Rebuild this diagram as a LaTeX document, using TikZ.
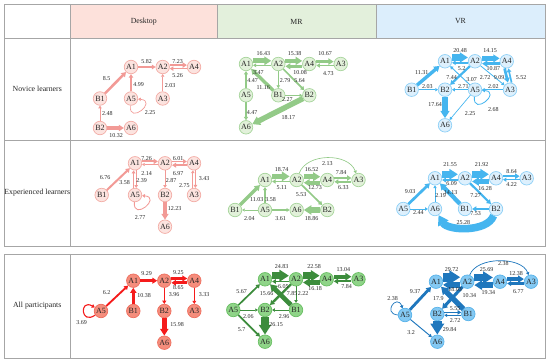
\documentclass[tikz,border=0pt]{standalone}
\usepackage{fontspec}
\setmainfont{Liberation Serif}
\usetikzlibrary{arrows.meta}
\definecolor{gridc}{HTML}{A6A6A6}
\definecolor{hD}{HTML}{FDE1DB}
\definecolor{hM}{HTML}{E3F0DC}
\definecolor{hV}{HTML}{DCEEFC}
\definecolor{dF}{HTML}{FCE3DF}
\definecolor{dD}{HTML}{F3AEA7}
\definecolor{dE}{HTML}{F29A96}
\definecolor{daF}{HTML}{F58D7C}
\definecolor{daD}{HTML}{EE6E5E}
\definecolor{daE}{HTML}{F51B1B}
\definecolor{mF}{HTML}{E2F1DA}
\definecolor{mD}{HTML}{A7D59C}
\definecolor{mE}{HTML}{93CA88}
\definecolor{maF}{HTML}{8FD488}
\definecolor{maD}{HTML}{69BE63}
\definecolor{maE}{HTML}{3C8C3C}
\definecolor{vF}{HTML}{DDF0FD}
\definecolor{vD}{HTML}{8ED0F6}
\definecolor{vE}{HTML}{45B5EF}
\definecolor{vaF}{HTML}{84C9F3}
\definecolor{vaD}{HTML}{58B3EA}
\definecolor{vaE}{HTML}{1F77BD}
\definecolor{txt}{HTML}{262626}
\tikzset{
  nd/.style={circle, minimum size=13.5pt, inner sep=0pt, line width=0.7pt, text=txt, font=\fontsize{8}{8}\selectfont},
  ndD/.style={nd, fill=dF, draw=dD},
  ndDA/.style={nd, fill=daF, draw=daD},
  ndM/.style={nd, fill=mF, draw=mD},
  ndMA/.style={nd, fill=maF, draw=maD},
  ndV/.style={nd, fill=vF, draw=vD},
  ndVA/.style={nd, fill=vaF, draw=vaD},
  lab/.style={inner sep=0pt, text=txt, font=\fontsize{6}{6}\selectfont},
  hd/.style={inner sep=0pt, text=txt, font=\fontsize{7.8}{8}\selectfont},
  ed/.style={line width={max(0.6,#1*0.3)*1pt}, -{Triangle[length=2pt 1, width=2.5pt 1.2]}},
  tline/.style={draw=gridc, line width=0.8pt},
}
\begin{document}
\begin{tikzpicture}[x=1pt,y=-1pt]
\useasboundingbox (0,0) rectangle (550,363);
% ---------- table ----------
\fill[hD] (70.5,4) rectangle (217,38.5);
\fill[hM] (217,4) rectangle (376,38.5);
\fill[hV] (376,4) rectangle (545,38.5);
\draw[tline] (4,4) rectangle (545,246);
\draw[tline] (4,38.5) -- (545,38.5);
\draw[tline] (4,140) -- (545,140);
\draw[tline] (70.5,4) -- (70.5,246);
\draw[tline] (217,4) -- (217,38.5);
\draw[tline] (376,4) -- (376,38.5);
\draw[tline] (4,254) rectangle (545,358);
\draw[tline] (70.5,254) -- (70.5,358);
\node[hd] (hdesk) at (143.75,21.5) {Desktop};
\node[hd] (hmr) at (296.5,21.5) {MR};
\node[hd] (hvr) at (460.5,21.5) {VR};
\node[hd] (rnov) at (37.25,89) {Novice learners};
\node[hd] (rexp) at (37.25,193) {Experienced learners};
\node[hd] (rall) at (37.25,306) {All participants};

% ================= Desktop novice =================
\node[ndD] (dnA1) at (131,67) {A1};
\node[ndD] (dnA2) at (162.7,67) {A2};
\node[ndD] (dnA4) at (194,67) {A4};
\node[ndD] (dnB1) at (100,98.5) {B1};
\node[ndD] (dnA5) at (131,98.5) {A5};
\node[ndD] (dnA3) at (162.7,98.5) {A3};
\node[ndD] (dnB2) at (100,128) {B2};
\node[ndD] (dnA6) at (131,128) {A6};
\begin{scope}[color=dE]
\draw[ed=8.5] (dnB1) -- (dnA1);
\draw[ed=5.82] (dnA1) -- (dnA2);
\draw[ed=7.23] ([yshift=1.9pt]dnA2.east) -- ([yshift=1.9pt]dnA4.west);
\draw[ed=5.26] ([yshift=-1.6pt]dnA4.west) -- ([yshift=-1.6pt]dnA2.east);
\draw[ed=4.99] (dnA5) -- (dnA1);
\draw[ed=2.03] (dnA3) -- (dnA2);
\draw[ed=2.25] (dnA5.-95) .. controls +(-95:20pt) and +(-5:20pt) .. (dnA5.-5);
\draw[ed=2.48] (dnB2) -- (dnB1);
\draw[ed=10.32] (dnB2) -- (dnA6);
\end{scope}
\node[lab] (dnl1) at (106.7,78.7) {8.5};
\node[lab] (dnl2) at (146.7,62) {5.82};
\node[lab] (dnl3) at (177.7,61.5) {7.23};
\node[lab] (dnl4) at (177.7,76) {5.26};
\node[lab] (dnl5) at (138.7,84.7) {4.99};
\node[lab] (dnl6) at (170,85.3) {2.03};
\node[lab] (dnl7) at (150,113) {2.25};
\node[lab] (dnl8) at (107.3,114) {2.48};
\node[lab] (dnl9) at (116,135.5) {10.32};

% ================= MR novice =================
\node[ndM] (mnA1) at (246,64) {A1};
\node[ndM] (mnA2) at (278.3,64) {A2};
\node[ndM] (mnA4) at (309.3,64) {A4};
\node[ndM] (mnA3) at (340.7,64) {A3};
\node[ndM] (mnA5) at (246,95.3) {A5};
\node[ndM] (mnB1) at (278.3,95.3) {B1};
\node[ndM] (mnB2) at (309.3,95.3) {B2};
\node[ndM] (mnA6) at (246,127.3) {A6};
\begin{scope}[color=mE]
\draw[ed=16.43] ([yshift=3.2pt]mnA1.east) -- ([yshift=3.2pt]mnA2.west);
\draw[ed=3.47] ([yshift=-1.3pt]mnA2.west) -- ([yshift=-1.3pt]mnA1.east);
\draw[ed=15.38] ([yshift=3.1pt]mnA2.east) -- ([yshift=3.1pt]mnA4.west);
\draw[ed=10.08] ([yshift=-2.3pt]mnA4.west) -- ([yshift=-2.3pt]mnA2.east);
\draw[ed=10.67] ([yshift=2.4pt]mnA4.east) -- ([yshift=2.4pt]mnA3.west);
\draw[ed=4.73] ([yshift=-1.5pt]mnA3.west) -- ([yshift=-1.5pt]mnA4.east);
\draw[ed=11.16] (mnB1) -- (mnA1);
\draw[ed=2.79] (mnA2) -- (mnB1);
\draw[ed=5.64] (mnA2) -- (mnB2);
\draw[ed=2.27] (mnB1) -- (mnB2);
\draw[ed=4.47] (mnA5) -- (mnA1);
\draw[ed=4.47] (mnA5) -- (mnA6);
\draw[ed=18.17] (mnB2) -- (mnA6);
\end{scope}
\node[lab] (mnl1) at (263.3,54) {16.43};
\node[lab] (mnl2) at (258.3,73) {3.47};
\node[lab] (mnl3) at (294.5,54) {15.38};
\node[lab] (mnl4) at (300,73) {10.08};
\node[lab] (mnl5) at (325,54) {10.67};
\node[lab] (mnl6) at (328.3,74) {4.73};
\node[lab] (mnl7) at (263.3,87.3) {11.16};
\node[lab] (mnl8) at (285,80.7) {2.79};
\node[lab] (mnl9) at (299.5,80.7) {5.64};
\node[lab] (mnl10) at (287.3,99.7) {2.27};
\node[lab] (mnl11) at (252.5,80.7) {4.47};
\node[lab] (mnl12) at (252,113) {4.47};
\node[lab] (mnl13) at (288.3,117.3) {18.17};

% ================= VR novice =================
\node[ndV] (vnA1) at (445,61.3) {A1};
\node[ndV] (vnA2) at (475,61.3) {A2};
\node[ndV] (vnA4) at (506.7,61.3) {A4};
\node[ndV] (vnB1) at (411.7,89.7) {B1};
\node[ndV] (vnB2) at (445,89.7) {B2};
\node[ndV] (vnA5) at (475,89.7) {A5};
\node[ndV] (vnA3) at (510,89.7) {A3};
\node[ndV] (vnA6) at (445,125.3) {A6};
\begin{scope}[color=vE]
\draw[ed=20.48] ([yshift=3.8pt]vnA1.east) -- ([yshift=3.8pt]vnA2.west);
\draw[ed=5.2] ([yshift=-1.5pt]vnA2.west) -- ([yshift=-1.5pt]vnA1.east);
\draw[ed=14.15] ([yshift=2.9pt]vnA2.east) -- ([yshift=2.9pt]vnA4.west);
\draw[ed=10.87] ([yshift=-2.4pt]vnA4.west) -- ([yshift=-2.4pt]vnA2.east);
\draw[ed=9.09] ([xshift=-2.1pt]vnA4.south) -- ([xshift=-2.1pt]vnA3.north);
\draw[ed=5.52] ([xshift=1.6pt]vnA3.north) -- ([xshift=1.6pt]vnA4.south);
\draw[ed=2.72] (vnA2) -- (vnA3);
\draw[ed=7.44] (vnA2) -- (vnB2);
\draw[ed=3.07] (vnA5) -- (vnA1);
\draw[ed=11.31] (vnB1) -- (vnA1);
\draw[ed=2.03] (vnB1) -- (vnB2);
\draw[ed=2.71] (vnA5) -- (vnB2);
\draw[ed=2.02] (vnA3) -- (vnA5);
\draw[ed=2.68] (vnA5.-95) .. controls +(-95:20pt) and +(-5:20pt) .. (vnA5.-5);
\draw[ed=17.64] (vnB2) -- (vnA6);
\draw[ed=2.25] (vnA5) -- (vnA6);
\end{scope}
\node[lab] (vnl1) at (460,50.7) {20.48};
\node[lab] (vnl2) at (461.7,68.7) {5.2};
\node[lab] (vnl3) at (490,50.7) {14.15};
\node[lab] (vnl4) at (493.3,68.7) {10.87};
\node[lab] (vnl5) at (499,77.3) {9.09};
\node[lab] (vnl6) at (521,77.3) {5.52};
\node[lab] (vnl7) at (485,77.3) {2.72};
\node[lab] (vnl8) at (451.7,77.3) {7.44};
\node[lab] (vnl9) at (471.7,79.7) {3.07};
\node[lab] (vnl10) at (421.7,73) {11.31};
\node[lab] (vnl11) at (427.3,86.3) {2.03};
\node[lab] (vnl12) at (463.3,86.3) {2.71};
\node[lab] (vnl13) at (493.3,86.3) {2.02};
\node[lab] (vnl14) at (493.3,109.7) {2.68};
\node[lab] (vnl15) at (435,104.7) {17.64};
\node[lab] (vnl16) at (470,114) {2.25};

% ================= Desktop experienced =================
\node[ndD] (deA1) at (135,163.3) {A1};
\node[ndD] (deA2) at (165,163.3) {A2};
\node[ndD] (deA4) at (194,163.3) {A4};
\node[ndD] (deB1) at (101.7,195) {B1};
\node[ndD] (deA5) at (135,195) {A5};
\node[ndD] (deB2) at (165,195) {B2};
\node[ndD] (deA3) at (194,195) {A3};
\node[ndD] (deA6) at (165,226.7) {A6};
\begin{scope}[color=dE]
\draw[ed=7.26] ([yshift=1.9pt]deA1.east) -- ([yshift=1.9pt]deA2.west);
\draw[ed=2.14] ([yshift=-1.2pt]deA2.west) -- ([yshift=-1.2pt]deA1.east);
\draw[ed=6.01] ([yshift=1.8pt]deA2.east) -- ([yshift=1.8pt]deA4.west);
\draw[ed=6.97] ([yshift=-1.9pt]deA4.west) -- ([yshift=-1.9pt]deA2.east);
\draw[ed=6.76] (deB1) -- (deA1);
\draw[ed=3.58] ([xshift=-1.4pt]deA5.north) -- ([xshift=-1.4pt]deA1.south);
\draw[ed=2.39] ([xshift=1.2pt]deA1.south) -- ([xshift=1.2pt]deA5.north);
\draw[ed=2.87] (deA2) -- (deB2);
\draw[ed=3.43] ([xshift=1.4pt]deA4.south) -- ([xshift=1.4pt]deA3.north);
\draw[ed=2.75] ([xshift=-1.2pt]deA3.north) -- ([xshift=-1.2pt]deA4.south);
\draw[ed=2.77] (deA5.-95) .. controls +(-95:20pt) and +(-5:20pt) .. (deA5.-5);
\draw[ed=12.23] (deB2) -- (deA6);
\end{scope}
\node[lab] (del1) at (146.7,159) {7.26};
\node[lab] (del2) at (146.7,173.3) {2.14};
\node[lab] (del3) at (178,159) {6.01};
\node[lab] (del4) at (178,174) {6.97};
\node[lab] (del5) at (105,177.3) {6.76};
\node[lab] (del6) at (124.5,182.7) {3.58};
\node[lab] (del7) at (141.5,180.7) {2.39};
\node[lab] (del8) at (171,180.7) {2.87};
\node[lab] (del9) at (204,178.3) {3.43};
\node[lab] (del10) at (184.3,186) {2.75};
\node[lab] (del11) at (140,217.3) {2.77};
\node[lab] (del12) at (174.5,208.3) {12.23};

% ================= MR experienced =================
\node[ndM] (meA1) at (265,180) {A1};
\node[ndM] (meA2) at (296.7,180) {A2};
\node[ndM] (meA4) at (327.3,180) {A4};
\node[ndM] (meA3) at (358.5,180) {A3};
\node[ndM] (meB1) at (235,210) {B1};
\node[ndM] (meA5) at (265,210) {A5};
\node[ndM] (meA6) at (296.7,210) {A6};
\node[ndM] (meB2) at (327.3,210) {B2};
\begin{scope}[color=mE]
\draw[ed=18.74] ([yshift=3.6pt]meA1.east) -- ([yshift=3.6pt]meA2.west);
\draw[ed=5.11] ([yshift=-1.5pt]meA2.west) -- ([yshift=-1.5pt]meA1.east);
\draw[ed=16.52] ([yshift=3.3pt]meA2.east) -- ([yshift=3.3pt]meA4.west);
\draw[ed=12.73] ([yshift=-2.7pt]meA4.west) -- ([yshift=-2.7pt]meA2.east);
\draw[ed=7.84] ([yshift=2pt]meA4.east) -- ([yshift=2pt]meA3.west);
\draw[ed=6.33] ([yshift=-1.8pt]meA3.west) -- ([yshift=-1.8pt]meA4.east);
\draw[ed=2.13] (meA2.70) .. controls +(70:22pt) and +(110:22pt) .. (meA3.110);
\draw[ed=11.03] (meB1) -- (meA1);
\draw[ed=3.58] (meA5) -- (meA1);
\draw[ed=2.04] (meA5) -- (meB1);
\draw[ed=3.61] (meA5) -- (meA6);
\draw[ed=18.86] (meB2) -- (meA6);
\draw[ed=5.53] (meA2) -- (meB2);
\end{scope}
\node[lab] (mel1) at (281.7,169.3) {18.74};
\node[lab] (mel2) at (281.7,187.3) {5.11};
\node[lab] (mel3) at (311.7,169.3) {16.52};
\node[lab] (mel4) at (315,187.3) {12.73};
\node[lab] (mel5) at (341,172.7) {7.84};
\node[lab] (mel6) at (343.3,187.3) {6.33};
\node[lab] (mel7) at (327.3,164) {2.13};
\node[lab] (mel8) at (256.7,199.3) {11.03};
\node[lab] (mel9) at (270.5,199.3) {3.58};
\node[lab] (mel10) at (249.3,218.3) {2.04};
\node[lab] (mel11) at (280.7,218.3) {3.61};
\node[lab] (mel12) at (311.7,218.3) {18.86};
\node[lab] (mel13) at (301,195) {5.53};

% ================= VR experienced =================
\node[ndV] (veA1) at (435,178.3) {A1};
\node[ndV] (veA2) at (465,178.3) {A2};
\node[ndV] (veA4) at (496,178.3) {A4};
\node[ndV] (veA3) at (526.7,178.3) {A3};
\node[ndV] (veA5) at (403.3,209) {A5};
\node[ndV] (veA6) at (435,209) {A6};
\node[ndV] (veB1) at (465,209) {B1};
\node[ndV] (veB2) at (496,209) {B2};
\begin{scope}[color=vE]
\draw[ed=21.55] ([yshift=4pt]veA1.east) -- ([yshift=4pt]veA2.west);
\draw[ed=6.09] ([yshift=-1.7pt]veA2.west) -- ([yshift=-1.7pt]veA1.east);
\draw[ed=21.92] ([yshift=4pt]veA2.east) -- ([yshift=4pt]veA4.west);
\draw[ed=16.28] ([yshift=-3.2pt]veA4.west) -- ([yshift=-3.2pt]veA2.east);
\draw[ed=8.64] ([yshift=2.1pt]veA4.east) -- ([yshift=2.1pt]veA3.west);
\draw[ed=4.22] ([yshift=-1.4pt]veA3.west) -- ([yshift=-1.4pt]veA4.east);
\draw[ed=9.03] (veA5) -- (veA1);
\draw[ed=2.19] (veA6) -- (veA1);
\draw[ed=14.13] (veB1) -- (veA1);
\draw[ed=7.27] (veA2) -- (veB2);
\draw[ed=7.53] (veB2) -- (veB1);
\draw[ed=2.44] (veA5) -- (veA6);
\draw[ed=25.28] (veB2.-110) .. controls +(-110:18pt) and +(-60:18pt) .. (veA6.-60);
\end{scope}
\node[lab] (vel1) at (450,165) {21.55};
\node[lab] (vel2) at (451.7,184) {6.09};
\node[lab] (vel3) at (481.7,165) {21.92};
\node[lab] (vel4) at (485,189) {16.28};
\node[lab] (vel5) at (511.7,171.7) {8.64};
\node[lab] (vel6) at (511.7,184.3) {4.22};
\node[lab] (vel7) at (410,191.7) {9.03};
\node[lab] (vel8) at (440.5,196) {2.19};
\node[lab] (vel9) at (450.5,192.7) {14.13};
\node[lab] (vel10) at (475.5,196) {7.27};
\node[lab] (vel11) at (475.5,214) {7.53};
\node[lab] (vel12) at (418.3,213) {2.44};
\node[lab] (vel13) at (463.3,222.7) {25.28};

% ================= Desktop all =================
\node[ndDA] (daA1) at (133.3,280.7) {A1};
\node[ndDA] (daA2) at (164.3,280.7) {A2};
\node[ndDA] (daA4) at (194.3,280.7) {A4};
\node[ndDA] (daA5) at (101,311) {A5};
\node[ndDA] (daB1) at (133.3,311) {B1};
\node[ndDA] (daB2) at (164.3,311) {B2};
\node[ndDA] (daA3) at (194.3,311) {A3};
\node[ndDA] (daA6) at (164.3,342.7) {A6};
\begin{scope}[color=daE]
\draw[ed=9.29] (daA1) -- (daA2);
\draw[ed=9.25] ([yshift=2.2pt]daA2.east) -- ([yshift=2.2pt]daA4.west);
\draw[ed=8.65] ([yshift=-2.1pt]daA4.west) -- ([yshift=-2.1pt]daA2.east);
\draw[ed=6.2] (daA5) -- (daA1);
\draw[ed=10.38] (daB1) -- (daA1);
\draw[ed=3.96] (daA2) -- (daB2);
\draw[ed=3.33] (daA4) -- (daA3);
\draw[ed=15.98] (daB2) -- (daA6);
\draw[ed=3.69] (daA5.215) .. controls +(215:18pt) and +(150:18pt) .. (daA5.150);
\end{scope}
\node[lab] (dal1) at (146.7,274) {9.29};
\node[lab] (dal2) at (178.3,273) {9.25};
\node[lab] (dal3) at (178.3,287.3) {8.65};
\node[lab] (dal4) at (106.7,292.7) {6.2};
\node[lab] (dal5) at (144,296) {10.38};
\node[lab] (dal6) at (174,295) {3.96};
\node[lab] (dal7) at (204,295) {3.33};
\node[lab] (dal8) at (177,324.3) {15.98};
\node[lab] (dal9) at (81.7,322.7) {3.69};

% ================= MR all =================
\node[ndMA] (maA1) at (265,279.3) {A1};
\node[ndMA] (maA2) at (296,279.3) {A2};
\node[ndMA] (maA4) at (326.7,279.3) {A4};
\node[ndMA] (maA3) at (358.5,279.3) {A3};
\node[ndMA] (maA5) at (233.3,310) {A5};
\node[ndMA] (maB2) at (265,310) {B2};
\node[ndMA] (maB1) at (296,310) {B1};
\node[ndMA] (maA6) at (265,341.7) {A6};
\begin{scope}[color=maE]
\draw[ed=24.83] ([yshift=3.6pt]maA1.east) -- ([yshift=3.6pt]maA2.west);
\draw[ed=6.05] ([yshift=-2.2pt]maA2.west) -- ([yshift=-2.2pt]maA1.east);
\draw[ed=22.58] ([yshift=3.6pt]maA2.east) -- ([yshift=3.6pt]maA4.west);
\draw[ed=16.18] ([yshift=-3.2pt]maA4.west) -- ([yshift=-3.2pt]maA2.east);
\draw[ed=13.04] ([yshift=2.6pt]maA4.east) -- ([yshift=2.6pt]maA3.west);
\draw[ed=7.84] ([yshift=-2pt]maA3.west) -- ([yshift=-2pt]maA4.east);
\draw[ed=5.67] (maA5) -- (maA1);
\draw[ed=2.06] (maA5) -- (maB2);
\draw[ed=5.7] (maA5) -- (maA6);
\draw[ed=26.15] (maB2) -- (maA6);
\draw[ed=2.96] (maB1) -- (maB2);
\draw[ed=2.22] (maA2) -- (maB1);
\draw[ed=15.66] (maB1) -- (maA1);
\draw[ed=7.85] (maA2) -- (maB2);
\end{scope}
\node[lab] (mal1) at (281.7,266.7) {24.83};
\node[lab] (mal2) at (283.3,287) {6.05};
\node[lab] (mal3) at (314,266.7) {22.58};
\node[lab] (mal4) at (315,289) {16.18};
\node[lab] (mal5) at (343.3,269.3) {13.04};
\node[lab] (mal6) at (346.7,287) {7.84};
\node[lab] (mal7) at (241.7,291.7) {5.67};
\node[lab] (mal8) at (248.3,316.5) {2.06};
\node[lab] (mal9) at (241.7,329.3) {5.7};
\node[lab] (mal10) at (276,325) {26.15};
\node[lab] (mal11) at (284,316.5) {2.96};
\node[lab] (mal12) at (303,294) {2.22};
\node[lab] (mal13) at (266.7,294) {15.66};
\node[lab] (mal14) at (292,294) {7.85};

% ================= VR all =================
\node[ndVA] (vaA1) at (436,281.7) {A1};
\node[ndVA] (vaA2) at (467.3,281.7) {A2};
\node[ndVA] (vaA4) at (500,281.7) {A4};
\node[ndVA] (vaA3) at (531,281.7) {A3};
\node[ndVA] (vaA5) at (405,315) {A5};
\node[ndVA] (vaB2) at (437.3,314) {B2};
\node[ndVA] (vaB1) at (468.3,314) {B1};
\node[ndVA] (vaA6) at (437.3,341.7) {A6};
\begin{scope}[color=vaE]
\draw[ed=29.72] ([yshift=4.5pt]vaA1.east) -- ([yshift=4.5pt]vaA2.west);
\draw[ed=18.03] ([yshift=-3.2pt]vaA2.west) -- ([yshift=-3.2pt]vaA1.east);
\draw[ed=25.69] ([yshift=4.2pt]vaA2.east) -- ([yshift=4.2pt]vaA4.west);
\draw[ed=19.34] ([yshift=-3.4pt]vaA4.west) -- ([yshift=-3.4pt]vaA2.east);
\draw[ed=12.38] ([yshift=2.6pt]vaA4.east) -- ([yshift=2.6pt]vaA3.west);
\draw[ed=6.77] ([yshift=-1.8pt]vaA3.west) -- ([yshift=-1.8pt]vaA4.east);
\draw[ed=2.38] (vaA2.70) .. controls +(70:20pt) and +(110:20pt) .. (vaA3.110);
\draw[ed=9.37] (vaA5) -- (vaA1);
\draw[ed=2.38] (vaA5.180) .. controls +(175:16pt) and +(110:16pt) .. (vaA5.110);
\draw[ed=3.2] (vaA5) -- (vaA6);
\draw[ed=29.84] (vaB2) -- (vaA6);
\draw[ed=5.55] ([yshift=1.6pt]vaB2.east) -- ([yshift=1.6pt]vaB1.west);
\draw[ed=2.72] ([yshift=-1.3pt]vaB1.west) -- ([yshift=-1.3pt]vaB2.east);
\draw[ed=17.9] (vaB1) -- (vaA1);
\draw[ed=10.34] (vaA2) -- (vaB2);
\end{scope}
\node[lab] (val1) at (451.7,270) {29.72};
\node[lab] (val2) at (455,290) {18.03};
\node[lab] (val3) at (486.7,270) {25.69};
\node[lab] (val4) at (488.3,293) {19.34};
\node[lab] (val5) at (516,273.3) {12.38};
\node[lab] (val6) at (518.3,291.7) {6.77};
\node[lab] (val7) at (503.3,263.5) {2.38};
\node[lab] (val8) at (415,291.7) {9.37};
\node[lab] (val9) at (392.7,298.3) {2.38};
\node[lab] (val10) at (411,332.7) {3.2};
\node[lab] (val11) at (449.5,330) {29.84};
\node[lab] (val12) at (455,308.3) {5.55};
\node[lab] (val13) at (455,320.7) {2.72};
\node[lab] (val14) at (438.3,298.3) {17.9};
\node[lab] (val15) at (469.3,295.7) {10.34};
\end{tikzpicture}
\end{document}
